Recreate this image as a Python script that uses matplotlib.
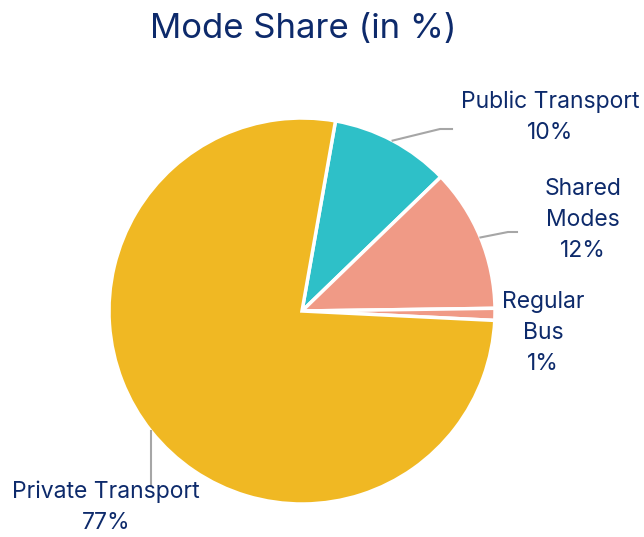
import numpy as np
import matplotlib.pyplot as plt

plt.rcParams['font.family'] = ['Inter', 'DejaVu Sans']

labels = ['Public Transport', 'Shared\nModes', 'Regular\nBus', 'Private Transport']
shares = [10, 12, 1, 77]
colors = ['#2EC0C8', '#F09A86', '#F09A86', '#F0B823']
navy = '#0D2A6B'

W, H = 644, 537
fig = plt.figure(figsize=(W / 100, H / 100), dpi=100)
ax = fig.add_axes([0, 0, 1, 1])

cx, cy, r = 302, H - 311, 193
wedges, _ = ax.pie(shares, colors=colors, startangle=80, counterclock=False,
                   center=(cx, cy), radius=r, frame=True,
                   wedgeprops=dict(edgecolor='white', linewidth=2.5))
ax.set_xlim(0, W)
ax.set_ylim(0, H)
ax.set_aspect('equal')
ax.axis('off')

# label anchors (text centre) and leader elbows
text_pos = [(550, H - 117), (583, H - 220), (543, H - 333), (106, H - 507)]
elbow = [(440, H - 129, 452), (508, H - 232, 517), None, (149, H - 486, None)]

for i, w in enumerate(wedges):
    mid = np.deg2rad((w.theta1 + w.theta2) / 2)
    px, py = cx + r * np.cos(mid), cy + r * np.sin(mid)
    ax.text(text_pos[i][0], text_pos[i][1], f"{labels[i]}\n{shares[i]}%",
            ha='center', va='center', fontsize=16.5, color=navy, linespacing=1.55)
    e = elbow[i]
    if e is None:
        continue
    if e[2] is None:
        ax.plot([px, px], [py, e[1]], color='#A6A6A6', lw=1.5)
    else:
        ax.plot([px, e[0], e[2]], [py, e[1], e[1]], color='#A6A6A6', lw=1.5)

ax.text(W / 2 - 19, H - 29, 'Mode Share (in %)', ha='center', va='center',
        fontsize=25, color=navy)

fig.savefig('out.png', dpi=100)
